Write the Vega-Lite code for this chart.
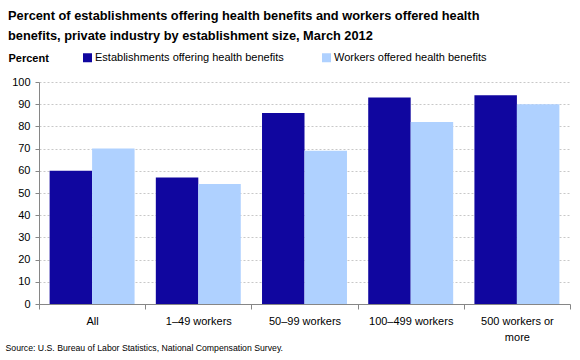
{
  "$schema": "https://vega.github.io/schema/vega-lite/v6.json",
  "width": 531,
  "height": 222,
  "autosize": {"type": "none"},
  "padding": {"left": 39, "top": 82, "right": 10, "bottom": 56},
  "background": "white",
  "title": {
    "text": ["Percent of establishments offering health benefits and workers offered health", "benefits, private industry by establishment size, March 2012"],
    "anchor": "start",
    "frame": "group",
    "dx": -31,
    "fontSize": 12.8,
    "font": "Liberation Sans",
    "fontWeight": "bold",
    "color": "black",
    "lineHeight": 20,
    "offset": 9
  },
  "data": {
    "values": [
      {"size": "All", "series": "Establishments  offering health benefits", "value": 60},
      {"size": "All", "series": "Workers offered health benefits", "value": 70},
      {"size": "1–49 workers", "series": "Establishments  offering health benefits", "value": 57},
      {"size": "1–49 workers", "series": "Workers offered health benefits", "value": 54},
      {"size": "50–99 workers", "series": "Establishments  offering health benefits", "value": 86},
      {"size": "50–99 workers", "series": "Workers offered health benefits", "value": 69},
      {"size": "100–499 workers", "series": "Establishments  offering health benefits", "value": 93},
      {"size": "100–499 workers", "series": "Workers offered health benefits", "value": 82},
      {"size": "500 workers or more", "series": "Establishments  offering health benefits", "value": 94},
      {"size": "500 workers or more", "series": "Workers offered health benefits", "value": 90}
    ]
  },
  "mark": {"type": "bar"},
  "encoding": {
    "x": {
      "field": "size",
      "type": "nominal",
      "sort": ["All", "1–49 workers", "50–99 workers", "100–499 workers", "500 workers or more"],
      "scale": {"paddingInner": 0, "paddingOuter": 0},
      "axis": {
        "title": "Source: U.S. Bureau of Labor Statistics, National Compensation Survey.",
        "titleX": -34,
        "titleY": 43,
        "titleAlign": "left",
        "titleAnchor": "start",
        "titleBaseline": "middle",
        "titleFontWeight": "normal",
        "titleFontSize": 8.7,
        "titleColor": "black",
        "labelAngle": 0,
        "labelFontSize": 11,
        "labelColor": "black",
        "labelPadding": 6,
        "labelLineHeight": 16,
        "labelExpr": "datum.label == '500 workers or more' ? ['500 workers or', 'more'] : datum.label",
        "tickBand": "extent",
        "tickSize": 5,
        "tickColor": "#868686",
        "domainColor": "#868686",
        "grid": false
      }
    },
    "xOffset": {
      "field": "series",
      "type": "nominal",
      "sort": ["Establishments  offering health benefits", "Workers offered health benefits"],
      "scale": {"paddingInner": 0, "paddingOuter": 0.25}
    },
    "y": {
      "field": "value",
      "type": "quantitative",
      "scale": {"domain": [0, 100], "nice": false},
      "axis": {
        "title": "Percent",
        "titleAngle": 0,
        "titleX": -31,
        "titleY": -24,
        "titleAlign": "left",
        "titleBaseline": "middle",
        "titleFontWeight": "bold",
        "titleFontSize": 11,
        "titleColor": "black",
        "values": [0, 10, 20, 30, 40, 50, 60, 70, 80, 90, 100],
        "labelFontSize": 11,
        "labelColor": "black",
        "labelPadding": 5,
        "tickSize": 4,
        "tickColor": "#868686",
        "domainColor": "#868686",
        "gridColor": "#c8c8c8",
        "gridDash": [2, 2],
        "gridWidth": 1
      }
    },
    "color": {
      "field": "series",
      "type": "nominal",
      "sort": ["Establishments  offering health benefits", "Workers offered health benefits"],
      "scale": {"range": ["#10069F", "#AFD1FF"]},
      "legend": {
        "orient": "none",
        "legendX": 43,
        "legendY": -30,
        "direction": "horizontal",
        "title": null,
        "symbolType": "square",
        "symbolSize": 81,
        "symbolStrokeWidth": 0,
        "symbolOpacity": 1,
        "labelFontSize": 11,
        "labelColor": "black",
        "labelOffset": 2,
        "labelLimit": 400,
        "columnPadding": 34
      }
    }
  },
  "config": {
    "font": "Liberation Sans",
    "view": {"stroke": null}
  }
}
